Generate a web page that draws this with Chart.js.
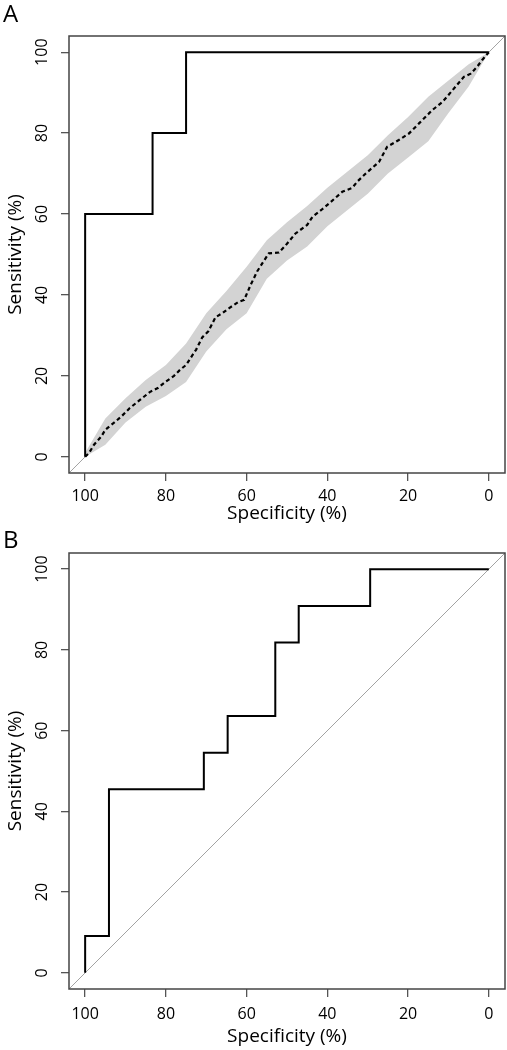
<!DOCTYPE html>
<html><head><meta charset="utf-8">
<script src="https://cdn.jsdelivr.net/npm/chart.js@4.4.0/dist/chart.umd.min.js"></script>
<style>
html,body{margin:0;padding:0;background:#fff;}
body{width:507px;height:1050px;position:relative;overflow:hidden;font-family:"Open Sans",sans-serif;}
.panel{position:absolute;left:0;width:507px;height:525px;}
.tag{position:absolute;left:3px;font-size:24px;color:#000;line-height:normal;}
</style></head><body>
<div class="panel" style="top:0"><canvas id="chart-a"></canvas></div>
<div class="panel" style="top:525px"><canvas id="chart-b"></canvas></div>
<div class="tag" style="top:-4px">A</div>
<div class="tag" style="top:522px">B</div>
<script>
// ── Data (specificity %, sensitivity %) ──
const tickVals=[0,20,40,60,80,100];

// panel A: empirical ROC
const specA=[100,100,83.3,83.3,75,75,0];
const sensA=[0,60,60,80,80,100,100];

// panel A: averaged curve (dashed)
const specMean=[100,99,97.8,96,95,93,91,89,86.5,84,82,80,78,76.5,75,73.5,72.5,71,69.5,67.7,66,64.4,62,60.6,59,57.4,56,54.5,52,50.3,47.9,45,43.7,41.5,39.6,36.3,33.8,32.6,30.5,27.2,25.2,22.3,19.8,17.3,14,11.5,9,6.2,4.5,2.9,1.7,0];
const sensMean=[0,1,3,5,6.7,8.3,10,12,14,16,17,18.6,20,21.5,22.7,25,26.5,29.5,31,34.5,35.5,36.7,38.3,38.8,42.5,45.8,48,50.3,50.5,52.3,55.2,57.3,59.3,61,62.6,65.5,66.5,68,70,72.9,76.6,78.3,79.9,82.4,85.7,87.7,90.6,93.9,94.7,96.4,98,100];

// panel A: confidence band of sensitivity
const specBand=[100,95,90,85,80,75,70,65,60,55,50,45,40,35,30,25,20,15,10,5,0];
const bandHi=[1,9.5,14.5,19,22.7,28,35.5,41,47,53.5,58,62,66.5,70.5,74.5,79.5,84,89,93,97,100];
const bandLo=[0,3,8.5,12.4,15,18.5,26,31.5,35.5,44,48.5,52,57,61,65,70,74,78,85,91.5,100];

// panel B: empirical ROC
const specB=[100,100,94.1,94.1,70.6,70.6,64.7,64.7,52.9,52.9,47.1,47.1,29.4,29.4,0];
const sensB=[0,9.1,9.1,45.5,45.5,54.5,54.5,63.6,63.6,81.8,81.8,90.9,90.9,100,100];

// chance line, corner to corner of the plot box
const diagX=[104,-4],diagY=[-4,104];

// ── Helpers ──
const pts=(xs,ys)=>xs.map((x,i)=>({x,y:ys[i]}));
const FONT='"Open Sans", Lato, sans-serif';
const INK='#000';

const boxPlugin={id:'box',afterDraw(c){
  const a=c.chartArea,ctx=c.ctx;
  ctx.save();ctx.strokeStyle='#444';ctx.lineWidth=1.5;
  ctx.strokeRect(a.left,a.top,a.right-a.left,a.bottom-a.top);
  ctx.restore();
}};

function scales(xH,xPad){
  const grid={display:true,drawOnChartArea:false,drawTicks:true,tickLength:8,color:'#555',lineWidth:1.3};
  return {
    x:{type:'linear',reverse:true,min:-4,max:104,
      afterBuildTicks:s=>{s.ticks=tickVals.map(v=>({value:v}));},
      afterFit:s=>{s.height=xH;},
      grid,border:{display:false},
      ticks:{color:INK,font:{family:FONT,size:16},padding:xPad,maxRotation:0,autoSkip:false},
      title:{display:true,text:'Specificity (%)',color:INK,font:{family:FONT,size:19},padding:0}},
    y:{type:'linear',min:-4,max:104,
      afterBuildTicks:s=>{s.ticks=tickVals.map(v=>({value:v}));},
      afterFit:s=>{s.width=65;},
      grid,border:{display:false},
      ticks:{color:INK,font:{family:FONT,size:16},padding:5,minRotation:90,maxRotation:90,crossAlign:'center',autoSkip:false},
      title:{display:true,text:'Sensitivity (%)',color:INK,font:{family:FONT,size:19},padding:0}}
  };
}

function opts(pad,xH,xPad){
  return {responsive:true,maintainAspectRatio:false,animation:false,events:[],
    layout:{padding:pad},
    plugins:{legend:{display:false},tooltip:{enabled:false}},
    elements:{point:{radius:0},line:{tension:0}},
    scales:scales(xH,xPad)};
}

// lower "order" is painted on top
const diag=()=>({data:pts(diagX,diagY),showLine:true,borderColor:'#a3a3a3',borderWidth:1,fill:false,order:5});

// ── Panel A ──
new Chart(document.getElementById('chart-a'),{type:'scatter',data:{datasets:[
  diag(),
  {data:pts(specBand,bandHi),showLine:true,borderWidth:0,borderColor:'rgba(0,0,0,0)',backgroundColor:'#d3d3d3',fill:'+1',order:4},
  {data:pts(specBand,bandLo),showLine:true,borderWidth:0,borderColor:'rgba(0,0,0,0)',fill:false,order:3},
  {data:pts(specMean,sensMean),showLine:true,borderColor:'#000',borderWidth:2.2,borderDash:[4,3],fill:false,order:2},
  {data:pts(specA,sensA),showLine:true,borderColor:'#000',borderWidth:2,fill:false,order:1}
]},options:opts({top:36,right:2,left:4,bottom:0},52,6),plugins:[boxPlugin]});

// ── Panel B ──
new Chart(document.getElementById('chart-b'),{type:'scatter',data:{datasets:[
  diag(),
  {data:pts(specB,sensB),showLine:true,borderColor:'#000',borderWidth:2,fill:false,order:1}
]},options:opts({top:28,right:2,left:4,bottom:2},59,8),plugins:[boxPlugin]});
</script>
</body></html>
